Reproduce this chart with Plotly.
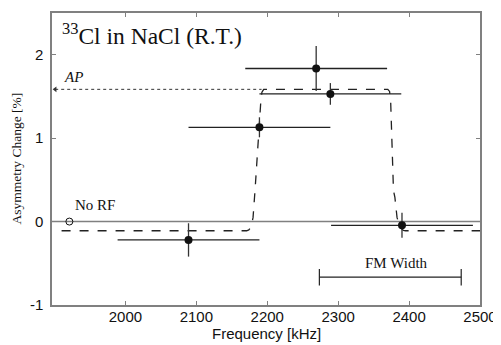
import plotly.graph_objects as go

# Data points (frequency kHz, asymmetry change %)
freq = [2089, 2189, 2269, 2289, 2390]
asym = [-0.22, 1.13, 1.835, 1.53, -0.045]
freq_err = [100, 100, 100, 100, 100]
asym_err = [0.2, 0.12, 0.27, 0.13, 0.15]

# No RF reference point
norf_freq = [1921]
norf_asym = [0.0]

# Fit curve (dashed)
fit_freq = [1910, 2171, 2174, 2176, 2178, 2180, 2183, 2185.5, 2189, 2191, 2192.5, 2195,
            2370, 2372.5, 2374, 2378, 2380, 2383, 2386, 2389, 2392, 2395, 2500]
fit_asym = [-0.11, -0.11, -0.10, -0.08, -0.04, 0.05, 0.4, 0.76, 1.12, 1.45, 1.55, 1.585,
            1.585, 1.56, 1.45, 0.37, 0.29, 0.05, -0.04, -0.085, -0.105, -0.11, -0.11]

# AP dotted line
ap_freq = [1901, 2192]
ap_asym = [1.585, 1.585]

# FM width bracket
fm_freq = [2273.5, 2473.5]
fm_asym = -0.667

xticks = [2000, 2100, 2200, 2300, 2400, 2500]
yticks = [-1, 0, 1, 2]
yticklabels = ["-1", "0", "1", "2"]

fig = go.Figure()

# zero line
fig.add_trace(go.Scatter(x=[1896.5, 2500], y=[0, 0], mode="lines",
                         line=dict(color="#808080", width=1.6),
                         showlegend=False, hoverinfo="skip"))

# AP dotted
fig.add_trace(go.Scatter(x=ap_freq, y=ap_asym, mode="lines",
                         line=dict(color="#333333", width=1, dash="dot"),
                         showlegend=False, hoverinfo="skip"))
fig.add_trace(go.Scatter(x=[ap_freq[0]], y=[ap_asym[0]], mode="markers",
                         marker=dict(symbol="triangle-left", size=5, color="#333333"),
                         showlegend=False, hoverinfo="skip"))

# fit curve
fig.add_trace(go.Scatter(x=fit_freq, y=fit_asym, mode="lines",
                         line=dict(color="#222222", width=1.3, dash="dash"),
                         showlegend=False, hoverinfo="skip"))

# data points
fig.add_trace(go.Scatter(x=freq, y=asym, mode="markers",
                         marker=dict(symbol="circle", size=8, color="#111111"),
                         error_x=dict(type="data", array=freq_err, color="#222222",
                                      thickness=1.3, width=0),
                         error_y=dict(type="data", array=asym_err, color="#333333",
                                      thickness=1.3, width=0),
                         showlegend=False))

# No RF open circle
fig.add_trace(go.Scatter(x=norf_freq, y=norf_asym, mode="markers",
                         marker=dict(symbol="circle-open", size=7, color="#111111",
                                     line=dict(width=1)),
                         showlegend=False))

# FM width bracket
fig.add_trace(go.Scatter(x=fm_freq, y=[fm_asym, fm_asym], mode="lines",
                         line=dict(color="#222222", width=1.2),
                         showlegend=False, hoverinfo="skip"))
for fx in fm_freq:
    fig.add_trace(go.Scatter(x=[fx, fx], y=[fm_asym - 0.1, fm_asym + 0.1], mode="lines",
                             line=dict(color="#222222", width=1.2),
                             showlegend=False, hoverinfo="skip"))

serif = "Liberation Serif, Times New Roman, serif"
sans = "Liberation Sans, Arial, sans-serif"

annotations = [
    dict(x=1908, y=2.25, xref="x", yref="y", text="<sup>33</sup>Cl in NaCl (R.T.)",
         showarrow=False, xanchor="left", yanchor="middle",
         font=dict(family=serif, size=23.5, color="#111111")),
    dict(x=1926, y=0.2, xref="x", yref="y", text="No RF",
         showarrow=False, xanchor="left", yanchor="middle",
         font=dict(family=serif, size=15, color="#111111")),
    dict(x=1910, y=1.73, xref="x", yref="y", text="<i>AP</i>",
         showarrow=False, xanchor="left", yanchor="middle",
         font=dict(family=serif, size=15, color="#111111")),
    dict(x=2382, y=-0.5, xref="x", yref="y", text="FM Width",
         showarrow=False, xanchor="center", yanchor="middle",
         font=dict(family=serif, size=15, color="#111111")),
    dict(x=-0.085, y=0.5, xref="paper", yref="paper", text="Asymmetry Change [%]",
         textangle=-90, showarrow=False, xanchor="center", yanchor="middle",
         font=dict(family=serif, size=13.5, color="#111111")),
    dict(x=0.501, y=-0.098, xref="paper", yref="paper", text="Frequency [kHz]",
         showarrow=False, xanchor="center", yanchor="middle",
         font=dict(family=sans, size=15, color="#111111")),
]

# page body has an 8px default margin; compensate in figure size/margins
fig.update_layout(
    width=493, height=337,
    margin=dict(l=43.5, r=21, t=3, b=40),
    plot_bgcolor="white", paper_bgcolor="white",
    annotations=annotations,
    showlegend=False,
)
fig.update_xaxes(range=[1896.5, 2500], tickvals=xticks, ticks="inside", ticklen=4,
                 tickcolor="#808080", showline=True, linecolor="#808080", linewidth=1.5,
                 mirror="ticks", showgrid=False, zeroline=False, ticklabelstandoff=-3,
                 tickfont=dict(family=sans, size=15, color="#111111"))
fig.update_yaxes(range=[-1, 2.5], tickvals=yticks, ticktext=yticklabels, ticks="inside",
                 ticklen=4, tickcolor="#808080", showline=True, linecolor="#808080",
                 linewidth=1.5, mirror="ticks", showgrid=False, zeroline=False,
                 ticklabelstandoff=4,
                 tickfont=dict(family=sans, size=15, color="#111111"))

fig.write_html("out.html")
